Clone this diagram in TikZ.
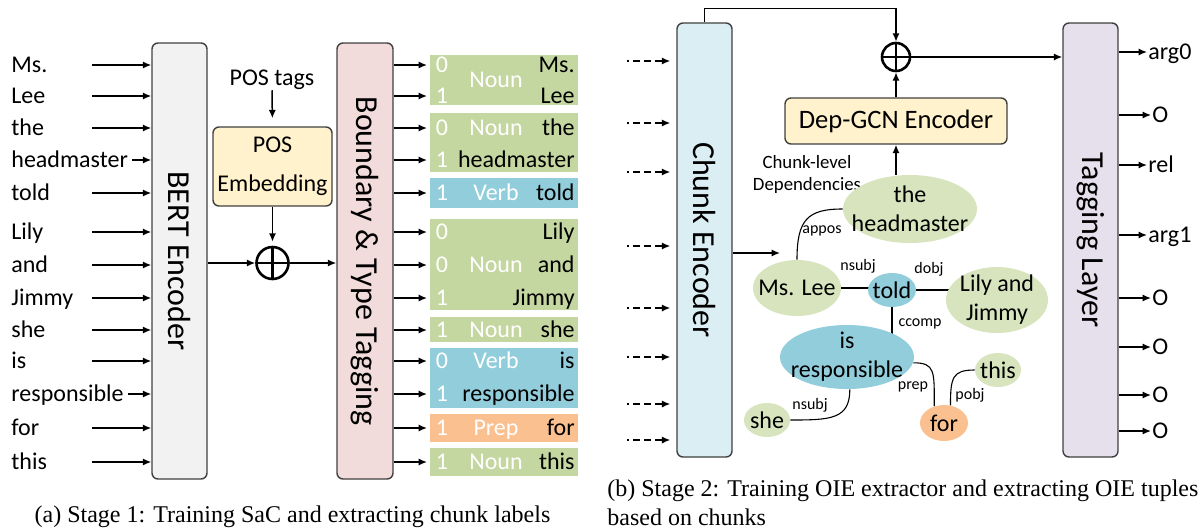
\documentclass[tikz,border=0pt]{standalone}
\usepackage{fontspec}
\setmainfont{Carlito}
\newfontfamily\capfont{Liberation Serif}
\usetikzlibrary{arrows.meta,shapes.geometric}

\definecolor{bertfill}{HTML}{F2F2F2}
\definecolor{pinkfill}{HTML}{F2DCDB}
\definecolor{yellowfill}{HTML}{FFF2CC}
\definecolor{cefill}{HTML}{DAEEF3}
\definecolor{tlfill}{HTML}{E6E0EC}
\definecolor{blkgreen}{HTML}{C5D7A0}
\definecolor{ellgreen}{HTML}{D7E4BD}
\definecolor{blkblue}{HTML}{92CDDC}
\definecolor{blkorange}{HTML}{FAC090}
\definecolor{boxline}{HTML}{404040}

\pgfdeclarelayer{bg}
\pgfsetlayers{bg,main}

\begin{document}
\begin{tikzpicture}[x=0.5pt,y=-0.5pt,
  arr/.style={-{Latex[length=4.2pt,width=3.6pt]},line width=0.75pt},
  darr/.style={arr,dash pattern=on 1pt off 2pt on 3.5pt off 2pt on 3.5pt off 2pt on 3.5pt off 2pt},
  edge/.style={line width=0.55pt},
  encbox/.style={draw=boxline,line width=0.7pt,rounded corners=3pt,minimum width=27.5pt,inner sep=0pt},
  vtext/.style={rotate=-90,font=\fontsize{16}{18}\selectfont,inner sep=0pt},
  ybox/.style={draw=boxline,line width=0.7pt,rounded corners=3pt,fill=yellowfill,inner sep=0pt},
  word/.style={font=\fontsize{12}{14}\selectfont,inner sep=0pt,text height=7.8pt,text depth=0pt},
  wtxt/.style={word,text=white},
  blk/.style={inner sep=0pt,minimum width=74pt,anchor=north west},
  oplus/.style={circle,draw,line width=1.3pt,inner sep=0pt,
    path picture={\draw[line width=1.3pt] (path picture bounding box.north) -- (path picture bounding box.south)
      (path picture bounding box.west) -- (path picture bounding box.east);}},
  ell/.style={ellipse,inner sep=0pt},
  etext/.style={font=\fontsize{12}{14.5}\selectfont,align=center,inner sep=0pt},
  elab/.style={font=\fontsize{8}{9}\selectfont,inner sep=0pt},
  captext/.style={font=\capfont\fontsize{12}{14}\selectfont,inner sep=0pt}
]
\useasboundingbox (0,0) rectangle (1204,531);

% ---------------- Stage 1 ----------------
\node[encbox,fill=bertfill,minimum height=218pt,label={[vtext]center:BERT Encoder}] (bert) at (179.5,261) {};
\node[encbox,fill=pinkfill,minimum height=218pt,minimum width=28pt,label={[vtext]center:Boundary \& Type Tagging}] (bt) at (365,261) {};

\node[font=\fontsize{12}{14}\selectfont,inner sep=0pt] (pt) at (272,80) {POS tags};
\node[ybox,minimum width=59.5pt,minimum height=39.5pt,align=center,font=\fontsize{12}{19.5}\selectfont] (pe) at (272.5,166.5) {POS\\Embedding};
\node[oplus,minimum size=16pt] (op1) at (272.5,263) {};

\draw[arr,shorten >=4pt] (pt.south) -- (pe.north);
\draw[arr,shorten >=2pt] (pe.south) -- (op1.north);
\draw[arr] (bert.east |- op1) -- (op1.west);
\draw[arr] (op1.east) -- (bt.west |- op1);

% chunk label blocks
\foreach \n/\ya/\yb/\c in {g1/55/105/blkgreen, g2/113/172/blkgreen, b1/178/208/blkblue,
    g3/219/310/blkgreen, g4/317/342/blkgreen, b2/348/408/blkblue, or1/414/442/blkorange, g5/448/476/blkgreen}
  \node[blk,fill=\c,minimum height={(\yb-\ya)*0.5pt}] (\n) at (430,\ya) {};
\coordinate (blkx) at (430,0);
\coordinate (inx) at (92,0);

% words, their inputs and outputs
\foreach \y/\t [count=\i] in {65/Ms.,96/Lee,128/the,160/headmaster,193/told,232/Lily,265/and,298/Jimmy,330/she,361/is,394/responsible,428/for,462/this}{
  \node[word,anchor=west] (w\i) at (11,\y) {\t};
  \node[word,anchor=east] (k\i) at (575,\y) {\t};
  \draw[arr,shorten >=1.5pt] (bt.east |- w\i) -- (blkx |- w\i);
}
\foreach \i in {1,2,3,5,6,7,8,9,10,12,13}
  \draw[arr] (inx |- w\i) -- (bert.west |- w\i);
\foreach \i in {4,11}
  \draw[arr] ([xshift=2pt]w\i.east) -- (bert.west |- w\i);

% boundary bits and chunk types
\foreach \y/\d [count=\i] in {65/0,96/1,128/0,160/1,193/1,232/0,265/0,298/1,330/1,361/0,394/1,428/1,462/1}
  \node[wtxt] (d\i) at (442,\y) {\d};
\foreach \y/\t [count=\i] in {80/Noun,128/Noun,193/Verb,265/Noun,330/Noun,361/Verb,428/Prep,462/Noun}
  \node[wtxt] (t\i) at (496,\y) {\t};

\node[captext] (capa) at (292.5,517) {(a) Stage 1: Training SaC and extracting chunk labels};

% ---------------- Stage 2 ----------------
\node[encbox,fill=cefill,minimum height=217pt,label={[vtext]center:Chunk Encoder}] (ce) at (704.5,240) {};
\node[encbox,fill=tlfill,minimum height=217pt,label={[vtext]center:Tagging Layer}] (tl) at (1090.5,240) {};

\foreach \y [count=\i] in {61,123,172,246,308,357,404,440}{
  \coordinate (ci\i) at (627,\y);
  \draw[darr,shorten >=3pt] (ci\i) -- (ci\i -| ce.west);
}

\node[oplus,minimum size=14pt] (op2) at (896,57) {};
\node[ybox,minimum width=111pt,minimum height=23pt,font=\fontsize{13.3}{15}\selectfont] (dg) at (896,121) {Dep-GCN Encoder};
\node[font=\fontsize{9.4}{11}\selectfont,align=center,inner sep=0pt] (cld) at (807,174) {Chunk-level\\Dependencies};

% dependency graph over chunks
\node[ell,fill=ellgreen,minimum width=67pt,minimum height=34pt,label={[etext]center:the\\headmaster}] (hm) at (910,209) {};
\node[ell,fill=ellgreen,minimum width=44pt,minimum height=28pt,label={[etext]center:Ms. Lee}] (ml) at (797,288) {};
\node[ell,fill=blkblue,minimum width=24pt,minimum height=17pt,label={[etext]center:told}] (td) at (892,290) {};
\node[ell,fill=ellgreen,minimum width=51pt,minimum height=33pt,label={[etext]center:Lily and\\Jimmy}] (lj) at (997,300) {};
\node[ell,fill=blkblue,minimum width=67pt,minimum height=32pt,label={[etext]center:is\\responsible}] (ir) at (847,357) {};
\node[ell,fill=ellgreen,minimum width=23pt,minimum height=17pt,label={[etext]center:she}] (sh) at (767,420) {};
\node[ell,fill=blkorange,minimum width=24pt,minimum height=18pt,label={[etext]center:for}] (fo) at (944,423) {};
\node[ell,fill=ellgreen,minimum width=23pt,minimum height=17pt,label={[etext]center:this}] (th) at (998,370) {};

\begin{pgfonlayer}{bg}
  \draw[edge] (ml) -- (ml -| td);
  \draw[edge] (td) -- (td -| lj);
  \draw[edge] (td) -- (td |- ir);
\end{pgfonlayer}
\draw[edge] (ml.north) .. controls +(0,-40) and +(-35,0) .. (hm.west);
\draw[edge] (ir.-5) .. controls +(22,0) and +(0,-35) .. (fo.120);
\draw[edge] (fo.70) .. controls +(0,-28) and +(-22,0) .. (th.west);
\draw[edge] (ir.-85) .. controls +(0,30) and +(40,0) .. (sh.east);

\node[elab] (l1) at (822,231) {appos};
\node[elab] (l2) at (858,266) {nsubj};
\node[elab] (l3) at (929,269) {dobj};
\node[elab] (l4) at (920,324) {ccomp};
\node[elab] (l5) at (913,387) {prep};
\node[elab] (l6) at (970,395) {pobj};
\node[elab] (l7) at (810,405) {nsubj};

% encoders, fusion and tagging
\coordinate (gin) at (780,253);
\draw[arr] (gin -| ce.east) -- (gin);
\draw[arr] (ce.north) -- ++(0,-14) -| (op2.north);
\draw[arr] (dg.north) -- (op2.south);
\draw[arr] (hm.north -| dg.south) -- (dg.south);
\draw[arr] (op2.east) -- (op2 -| tl.west);

\foreach \y/\t/\xx [count=\i] in {52/arg0/1148,115/O/1152,165/rel/1148,235/arg1/1148,298/O/1152,347/O/1152,395/O/1152,431/O/1152}{
  \node[word,anchor=west] (o\i) at (\xx,\y) {\t};
  \draw[arr] (tl.east |- o\i) -- ([xshift=-0.5pt]o\i.west);
}

\node[captext,anchor=west] (capb1) at (607,491) {(b) Stage 2: Training OIE extractor and extracting OIE tuples};
\node[captext,anchor=west] (capb2) at (607,517) {based on chunks};
\end{tikzpicture}
\end{document}
